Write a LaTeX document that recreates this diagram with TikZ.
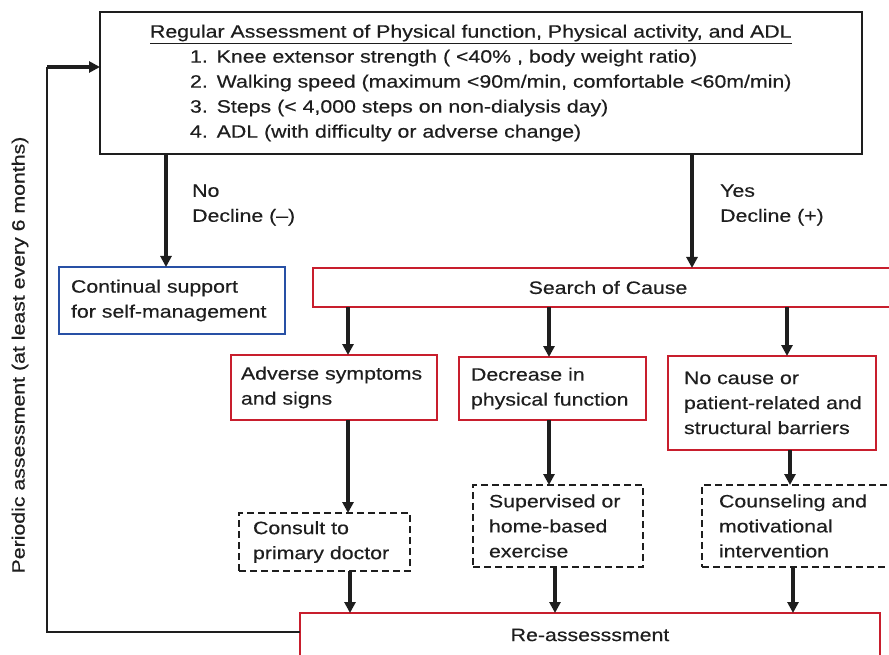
\documentclass[tikz,border=0pt]{standalone}
\usepackage{fontspec}
\setmainfont{Liberation Sans}[FakeStretch=1.19, FakeBold=0.4]
\usetikzlibrary{arrows.meta}
\definecolor{boxred}{RGB}{200,30,45}
\definecolor{boxblue}{RGB}{40,80,165}
\definecolor{ink}{RGB}{30,30,30}
\newcommand{\fs}{\fontsize{17.9}{25}\selectfont}
\tikzset{
  base/.style={rectangle, line width=2.2pt, font=\fs, align=left, inner ysep=0pt, outer sep=0pt, anchor=north west, text=ink},
  solidbox/.style={base, draw=ink},
  redbox/.style={base, draw=boxred},
  bluebox/.style={base, draw=boxblue},
  dashbox/.style={base, draw=ink, dash pattern=on 7pt off 4pt},
  lbl/.style={font=\fs, align=left, inner sep=0pt, text=ink},
  arr/.style={draw=ink, line width=3.4pt, -{Triangle[length=11pt,width=11pt]}},
  loopline/.style={draw=ink, line width=2.8pt}
}
\begin{document}
\begin{tikzpicture}[x=1pt,y=-1pt]
\useasboundingbox (0,0) rectangle (889,655);
\clip (0,0) rectangle (889,655);

\node[solidbox, text width=662, inner xsep=50, minimum height=142] (top) at (100,12)
 {\underline{Regular Assessment of Physical function, Physical activity, and ADL}\\
  \hspace*{40pt}1. Knee extensor strength ( <40\% , body weight ratio)\\
  \hspace*{40pt}2. Walking speed (maximum <90m/min, comfortable <60m/min)\\
  \hspace*{40pt}3. Steps (< 4,000 steps on non-dialysis day)\\
  \hspace*{40pt}4. ADL (with difficulty or adverse change)};

\node[bluebox, text width=202, inner xsep=12, minimum height=67] (cont) at (59,267)
 {\mbox{Continual support}\\\mbox{for self-management}};

\node[redbox, align=center, minimum width=590, minimum height=39] (search) at (313,268) {Search of Cause};

\node[redbox, text width=186, inner xsep=10, minimum height=65] (adv) at (231,355)
 {\mbox{Adverse symptoms}\\\mbox{and signs}};
\node[redbox, text width=163, inner xsep=12, minimum height=63] (dec) at (459,357)
 {\mbox{Decrease in}\\\mbox{physical function}};
\node[redbox, text width=176, inner xsep=16, minimum height=94] (noc) at (668,356)
 {\mbox{No cause or}\\\mbox{patient-related and}\\\mbox{structural barriers}};

\node[dashbox, text width=143, inner xsep=14, minimum height=58] (con) at (239,513)
 {\mbox{Consult to}\\\mbox{primary doctor}};
\node[dashbox, text width=138, inner xsep=16, minimum height=82] (sup) at (473,485)
 {\mbox{Supervised or}\\\mbox{home-based}\\\mbox{exercise}};
\node[dashbox, text width=166, inner xsep=17, minimum height=82] (cou) at (702,485)
 {\mbox{Counseling and}\\\mbox{motivational}\\\mbox{intervention}};

\node[redbox, align=center, minimum width=580, minimum height=44] (re) at (300,613) {Re-assesssment};

\node[lbl, anchor=west] (nolbl) at (192,205) {No\\Decline (--)};
\node[lbl, anchor=west] (yeslbl) at (720,205) {Yes\\Decline (+)};
\node[lbl, rotate=90] (per) at (20,355) {Periodic assessment (at least every 6 months)};

\coordinate (c1) at (166,0);
\coordinate (c2) at (692,0);
\coordinate (a1) at (348,0);
\coordinate (a2) at (549,0);
\coordinate (a3) at (787,0);
\coordinate (b3) at (790,0);
\coordinate (d1) at (350,0);
\coordinate (d2) at (555,0);
\coordinate (d3) at (793,0);
\coordinate (lb) at (47,632);
\coordinate (lt) at (47,67);

\draw[arr] (top.south -| c1) -- (cont.north -| c1);
\draw[arr] (top.south -| c2) -- (search.north -| c2);
\draw[arr] (search.south -| a1) -- (adv.north -| a1);
\draw[arr] (search.south -| a2) -- (dec.north -| a2);
\draw[arr] (search.south -| a3) -- (noc.north -| a3);
\draw[arr] (adv.south -| a1) -- (con.north -| a1);
\draw[arr] (dec.south -| a2) -- (sup.north -| a2);
\draw[arr] (noc.south -| b3) -- (cou.north -| b3);
\draw[arr] (con.south -| d1) -- (re.north -| d1);
\draw[arr] (sup.south -| d2) -- (re.north -| d2);
\draw[arr] (cou.south -| d3) -- (re.north -| d3);
\draw[loopline] (lb -| re.west) -- (lb) -- (lt);
\draw[arr] (lt) -- (lt -| top.west);
\end{tikzpicture}
\end{document}
